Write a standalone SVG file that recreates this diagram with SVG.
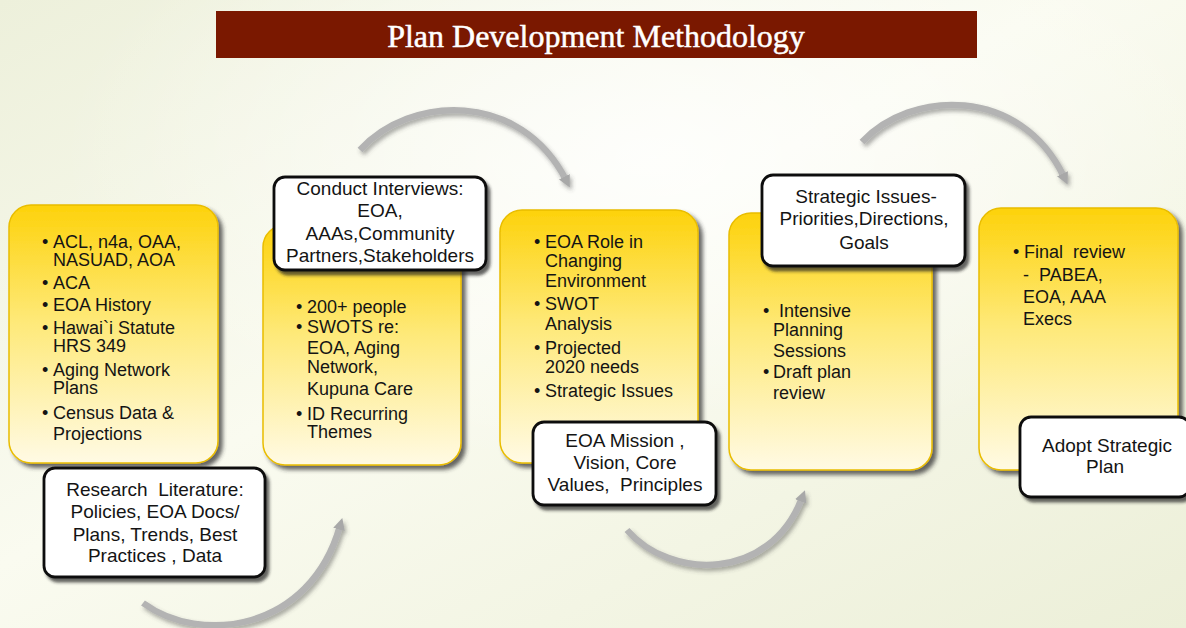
<svg xmlns="http://www.w3.org/2000/svg" width="1186" height="628" viewBox="0 0 1186 628">
<defs>
<linearGradient id="bg" x1="0" y1="0" x2="1" y2="1">
<stop offset="0" stop-color="#edf0db"/>
<stop offset="0.45" stop-color="#fafbf0"/>
<stop offset="1" stop-color="#ecefd8"/>
</linearGradient>
<radialGradient id="glow" cx="0.55" cy="0.25" r="0.5">
<stop offset="0" stop-color="#ffffff" stop-opacity="0.8"/>
<stop offset="1" stop-color="#ffffff" stop-opacity="0"/>
</radialGradient>
<linearGradient id="gold" x1="0" y1="0" x2="0" y2="1">
<stop offset="0" stop-color="#fdd20b"/>
<stop offset="0.45" stop-color="#fee978"/>
<stop offset="1" stop-color="#fffae4"/>
</linearGradient>
<filter id="ysh" x="-10%" y="-10%" width="125%" height="125%">
<feDropShadow dx="4" dy="4" stdDeviation="2" flood-color="#333" flood-opacity="0.75"/>
</filter>
<filter id="wsh" x="-10%" y="-10%" width="125%" height="130%">
<feDropShadow dx="3" dy="4" stdDeviation="1.5" flood-color="#222" flood-opacity="0.7"/>
</filter>
<filter id="ash" x="-20%" y="-20%" width="140%" height="140%">
<feDropShadow dx="2" dy="3" stdDeviation="2" flood-color="#444" flood-opacity="0.45"/>
</filter>
<marker id="ah" viewBox="0 0 10 10" refX="3" refY="5" markerWidth="12" markerHeight="12" markerUnits="userSpaceOnUse" orient="auto">
<path d="M0,0 L10,5 L0,10 z" fill="#a8a8a8"/>
</marker>
<style>
.yb{fill:url(#gold);stroke:#e9bd00;stroke-width:1.5;filter:url(#ysh)}
.wb{fill:#ffffff;stroke:#111;stroke-width:2.8;filter:url(#wsh)}
.t{font-family:"Liberation Sans",Arial,sans-serif;font-size:18px;fill:#141414;white-space:pre}
.w{font-family:"Liberation Sans",Arial,sans-serif;font-size:19px;fill:#141414;text-anchor:middle;white-space:pre}
.arc{fill:none;stroke:#b3b3b3;stroke-width:6.5;stroke-linecap:butt;marker-end:url(#ah);filter:url(#ash)}
</style>
</defs>
<rect x="0" y="0" width="1186" height="628" fill="url(#bg)"/>
<rect x="0" y="0" width="1186" height="628" fill="url(#glow)"/>

<g id="title">
<rect x="216" y="11" width="761" height="47" fill="#7a1800"/>
<text x="596" y="47" font-family="'Liberation Serif','Times New Roman',serif" font-size="32" fill="#ffffff" stroke="#ffffff" stroke-width="0.5" text-anchor="middle">Plan Development Methodology</text>
</g>

<g id="connectors">
<path class="arc" d="M143,603 C200,645 310,632 340,526"/>
<path class="arc" d="M360,150 C410,95 520,90 566,180"/>
<path class="arc" d="M627,530 C670,580 770,582 802,498"/>
<path class="arc" d="M862,142 C910,90 1020,85 1064,177"/>
</g>

<g id="stage1">
<rect class="yb" x="9" y="205" width="209" height="258" rx="22"/>
<text class="t" x="42" y="248">•</text>
<text class="t" x="53" y="248">ACL, n4a, OAA,</text>
<text class="t" x="53" y="266">NASUAD, AOA</text>
<text class="t" x="42" y="289">•</text>
<text class="t" x="53" y="289">ACA</text>
<text class="t" x="42" y="311">•</text>
<text class="t" x="53" y="311">EOA History</text>
<text class="t" x="42" y="334">•</text>
<text class="t" x="53" y="334">Hawai`i Statute</text>
<text class="t" x="53" y="352">HRS 349</text>
<text class="t" x="42" y="376">•</text>
<text class="t" x="53" y="376">Aging Network</text>
<text class="t" x="53" y="394">Plans</text>
<text class="t" x="42" y="419">•</text>
<text class="t" x="53" y="419">Census Data &amp;</text>
<text class="t" x="53" y="440">Projections</text>
</g>

<g id="stage2">
<rect class="yb" x="263" y="225" width="198" height="240" rx="22"/>
<text class="t" x="296" y="313">•</text>
<text class="t" x="307" y="313">200+ people</text>
<text class="t" x="296" y="333">•</text>
<text class="t" x="307" y="333">SWOTS re:</text>
<text class="t" x="307" y="354">EOA, Aging</text>
<text class="t" x="307" y="373">Network,</text>
<text class="t" x="307" y="395">Kupuna Care</text>
<text class="t" x="296" y="420">•</text>
<text class="t" x="307" y="420">ID Recurring</text>
<text class="t" x="307" y="438">Themes</text>
</g>

<g id="stage3">
<rect class="yb" x="500" y="210" width="198" height="253" rx="22"/>
<text class="t" x="534" y="248">•</text>
<text class="t" x="545" y="248">EOA Role in</text>
<text class="t" x="545" y="267">Changing</text>
<text class="t" x="545" y="287">Environment</text>
<text class="t" x="534" y="310">•</text>
<text class="t" x="545" y="310">SWOT</text>
<text class="t" x="545" y="330">Analysis</text>
<text class="t" x="534" y="354">•</text>
<text class="t" x="545" y="354">Projected</text>
<text class="t" x="545" y="373">2020 needs</text>
<text class="t" x="534" y="397">•</text>
<text class="t" x="545" y="397">Strategic Issues</text>
</g>

<g id="stage4">
<rect class="yb" x="729" y="213" width="203" height="257" rx="22"/>
<text class="t" x="763" y="317">•</text>
<text class="t" x="779" y="317">Intensive</text>
<text class="t" x="773" y="336">Planning</text>
<text class="t" x="773" y="357">Sessions</text>
<text class="t" x="763" y="378">•</text>
<text class="t" x="773" y="378">Draft plan</text>
<text class="t" x="773" y="399">review</text>
</g>

<g id="stage5">
<rect class="yb" x="979" y="208" width="199" height="262" rx="22"/>
<text class="t" x="1013" y="258">•</text>
<text class="t" x="1024" y="258">Final  review</text>
<text class="t" x="1023" y="281">-  PABEA,</text>
<text class="t" x="1023" y="303">EOA, AAA</text>
<text class="t" x="1023" y="325">Execs</text>
</g>

<g id="label-research">
<rect class="wb" x="44" y="468" width="221" height="109" rx="11"/>
<text class="w" x="155" y="496">Research  Literature:</text>
<text class="w" x="155" y="518">Policies, EOA Docs/</text>
<text class="w" x="155" y="541">Plans, Trends, Best</text>
<text class="w" x="155" y="562">Practices , Data</text>
</g>

<g id="label-interviews">
<rect class="wb" x="274" y="177" width="212" height="93" rx="11"/>
<text class="w" x="380" y="195">Conduct Interviews:</text>
<text class="w" x="380" y="217">EOA,</text>
<text class="w" x="380" y="240">AAAs,Community</text>
<text class="w" x="380" y="262">Partners,Stakeholders</text>
</g>

<g id="label-mission">
<rect class="wb" x="533" y="422" width="183" height="83" rx="11"/>
<text class="w" x="625" y="447">EOA Mission ,</text>
<text class="w" x="625" y="469">Vision, Core</text>
<text class="w" x="625" y="491">Values,  Principles</text>
</g>

<g id="label-strategic">
<rect class="wb" x="762" y="175" width="203" height="91" rx="11"/>
<text class="w" x="866" y="203">Strategic Issues-</text>
<text class="w" x="864" y="225">Priorities,Directions,</text>
<text class="w" x="864" y="249">Goals</text>
</g>

<g id="label-adopt">
<rect class="wb" x="1020" y="417" width="170" height="80" rx="11"/>
<text class="w" x="1107" y="452">Adopt Strategic</text>
<text class="w" x="1105" y="473">Plan</text>
</g>
</svg>
